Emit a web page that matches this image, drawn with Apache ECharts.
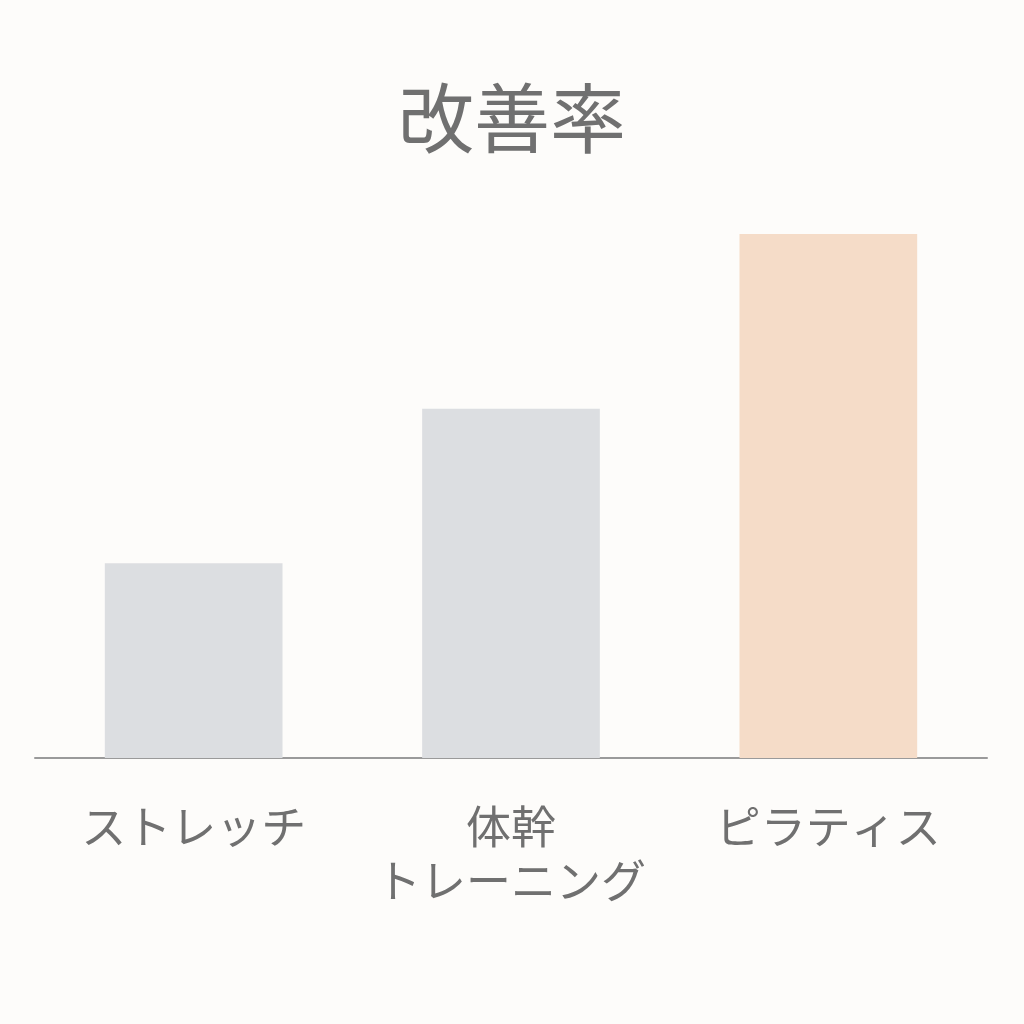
<!DOCTYPE html>
<html><head><meta charset="utf-8">
<script src="https://cdn.jsdelivr.net/npm/echarts@6/dist/echarts.min.js"></script>
<style>html,body{margin:0;padding:0;background:#fdfcfa;}#c{width:1024px;height:1024px;}</style>
</head><body><div id="c"></div>
<script>
const categories = ['ストレッチ', '体幹\nトレーニング', 'ピラティス'];
const values = [22.3, 40, 60];
const barColors = ['#dcdee1', '#dcdee1', '#f5dcc8'];
const chart = echarts.init(document.getElementById('c'));
chart.setOption({
  backgroundColor: '#fdfcfa',
  title: {
    text: '改善率', left: 'center', top: 75,
    textStyle: { fontFamily: 'Noto Sans CJK JP', fontSize: 76, fontWeight: 'normal', color: '#707070' }
  },
  grid: { left: 35, right: 37, top: 234, bottom: 266, containLabel: false },
  xAxis: {
    type: 'category', data: categories,
    axisLine: { lineStyle: { color: '#9a9a9a', width: 2 } },
    axisTick: { show: false },
    axisLabel: { fontFamily: 'Noto Sans CJK JP', fontSize: 45, color: '#707070', margin: 42, lineHeight: 54, interval: 0 }
  },
  yAxis: { type: 'value', min: 0, max: 60, show: false, splitLine: { show: false } },
  series: [{
    type: 'bar', barWidth: '56%',
    data: values.map((v, i) => ({ value: v, itemStyle: { color: barColors[i] } }))
  }]
});
</script></body></html>
